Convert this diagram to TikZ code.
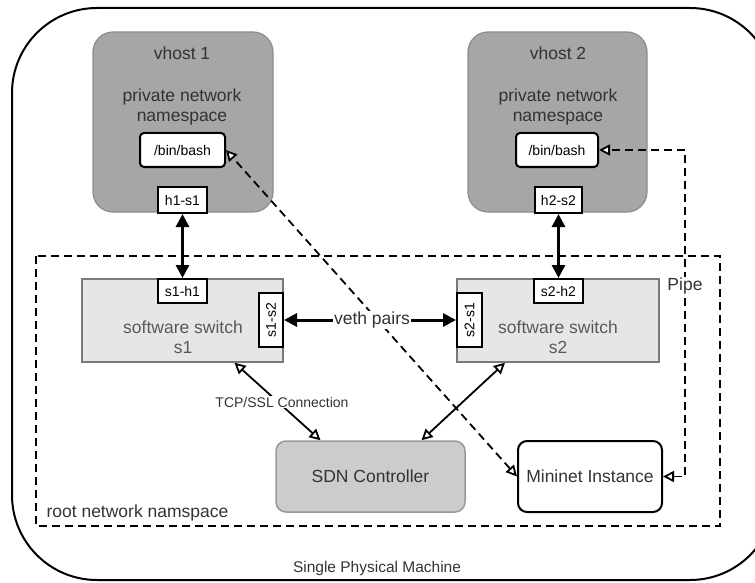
\documentclass[tikz,border=0pt]{standalone}
\usepackage{fontspec}
\setmainfont{Liberation Sans}
\usetikzlibrary{arrows.meta,calc}
\definecolor{hostgray}{HTML}{A6A6A6}
\definecolor{hostedge}{HTML}{8C8C8C}
\definecolor{switchgray}{HTML}{E6E6E6}
\definecolor{switchedge}{HTML}{7A7A7A}
\definecolor{ctrlgray}{HTML}{CCCCCC}
\definecolor{ctrledge}{HTML}{999999}
\definecolor{txt}{HTML}{333333}
\tikzset{
  big/.style={font=\fontsize{17.5}{20}\selectfont, text=txt},
  mid/.style={font=\fontsize{14}{16}\selectfont, text=txt},
  small/.style={font=\fontsize{14}{16}\selectfont, text=black},
  hostbox/.style={draw=hostedge, fill=hostgray, line width=1.2pt, rounded corners=20pt, inner sep=0pt},
  bashbox/.style={draw=black, fill=white, line width=2pt, rounded corners=4pt, inner sep=0pt, small},
  portbox/.style={draw=black, fill=white, line width=2pt, inner sep=0pt, small},
  switchbox/.style={draw=switchedge, fill=switchgray, line width=1.5pt, inner sep=0pt},
  dashline/.style={line width=1.9pt, dash pattern=on 8pt off 5pt},
  thickarrow/.style={line width=3pt, {Triangle[length=13pt,width=13pt]}-{Triangle[length=13pt,width=13pt]}},
  openboth/.style={line width=1.8pt, {Triangle[open,length=11pt,width=11pt,fill=white]}-{Triangle[open,length=11pt,width=11pt,fill=white]}},
}
\begin{document}
\begin{tikzpicture}[x=1pt,y=-1pt]
\useasboundingbox (0,0) rectangle (755,583);
\begin{scope}
\clip (0,0) rectangle (755,583);
% the physical machine
\draw[line width=2pt, rounded corners=85pt] (12,8) rectangle (775,580);
\end{scope}
\node[font=\fontsize{15.5}{18}\selectfont, text=txt] (machine) at (377,568) {Single Physical Machine};

% root namespace
\draw[dashline] (36,256) rectangle (720,526);
\node[big, anchor=west] (rootlbl) at (43,513) {root network namspace};

% virtual hosts
\node[hostbox, minimum width=180pt, minimum height=180pt] (vhost1) at (183,122) {};
\node[hostbox, minimum width=179pt, minimum height=180pt] (vhost2) at (557.5,122) {};
\node[big] (vh1name) at (182,53) {vhost 1};
\node[big, align=center] (vh1ns) at (182,107) {private network\\namespace};
\node[big] (vh2name) at (558,53) {vhost 2};
\node[big, align=center] (vh2ns) at (558,107) {private network\\namespace};
\node[bashbox, minimum width=85pt, minimum height=34pt] (bash1) at (182.5,150) {/bin/bash};
\node[bashbox, minimum width=82pt, minimum height=34pt] (bash2) at (557,150) {/bin/bash};
\node[portbox, minimum width=49pt, minimum height=26pt] (h1s1) at (182.5,200) {h1-s1};
\node[portbox, minimum width=47pt, minimum height=26pt] (h2s2) at (558.5,200) {h2-s2};

% software switches
\node[switchbox, minimum width=201pt, minimum height=83pt] (sw1) at (182.5,320.5) {};
\node[switchbox, minimum width=202pt, minimum height=83pt] (sw2) at (558,320.5) {};
\node[big, align=center, text=black!65] (sw1lbl) at (183,337) {software switch\\s1};
\node[big, align=center, text=black!65] (sw2lbl) at (558,337) {software switch\\s2};
\node[portbox, minimum width=49pt, minimum height=24pt] (s1h1) at (182.5,291) {s1-h1};
\node[portbox, minimum width=49pt, minimum height=24pt] (s2h2) at (558.5,291) {s2-h2};
% vertical ports, text read bottom to top
\node[portbox, minimum width=54pt, minimum height=24pt, rotate=90] (s1s2) at (271,320) {s1-s2};
\node[portbox, minimum width=54pt, minimum height=25pt, rotate=90] (s2s1) at (469.5,320) {s2-s1};

% controller and mininet
\node[draw=ctrledge, fill=ctrlgray, line width=1.5pt, rounded corners=10pt, minimum width=189pt, minimum height=71pt, big] (sdn) at (370.5,476.5) {SDN Controller};
\node[draw=black, fill=white, line width=2pt, rounded corners=9pt, minimum width=144pt, minimum height=71pt, big] (mininet) at (590,476.5) {Mininet Instance};

% host-to-switch links
\draw[thickarrow] (h1s1.south) -- (s1h1.north);
\draw[thickarrow] (h2s2.south) -- (s2h2.north);

% mininet to the shell of vhost 1
\draw[dashline, openboth] (mininet.west) -- (bash1.east);

% pipe to the shell of vhost 2
\coordinate (pipetop) at ($(bash2.east)+(86,0)$);
\coordinate (pipebot) at ($(mininet.east)+(22,0)$);
\draw[dashline, openboth] (mininet.east) -- (pipebot) -- (pipetop) -- (bash2.east);
\node[big, fill=white, inner sep=1pt] (pipelbl) at (685,286) {Pipe};

% veth pair (rotated ports: south is the right side, north the left side)
\draw[thickarrow] (s1s2.south) -- (s2s1.north);
\node[big, fill=white, inner sep=1pt] (vethlbl) at (372,320) {veth pairs};

% control channels
\draw[openboth] ([xshift=52pt]sw1.south) -- ([xshift=-50pt]sdn.north);
\node[mid, fill=white, inner sep=1pt] (tcplbl) at (282,402) {TCP/SSL Connection};
\draw[openboth] ([xshift=-53pt]sw2.south) -- ([xshift=51pt]sdn.north);
\end{tikzpicture}
\end{document}
